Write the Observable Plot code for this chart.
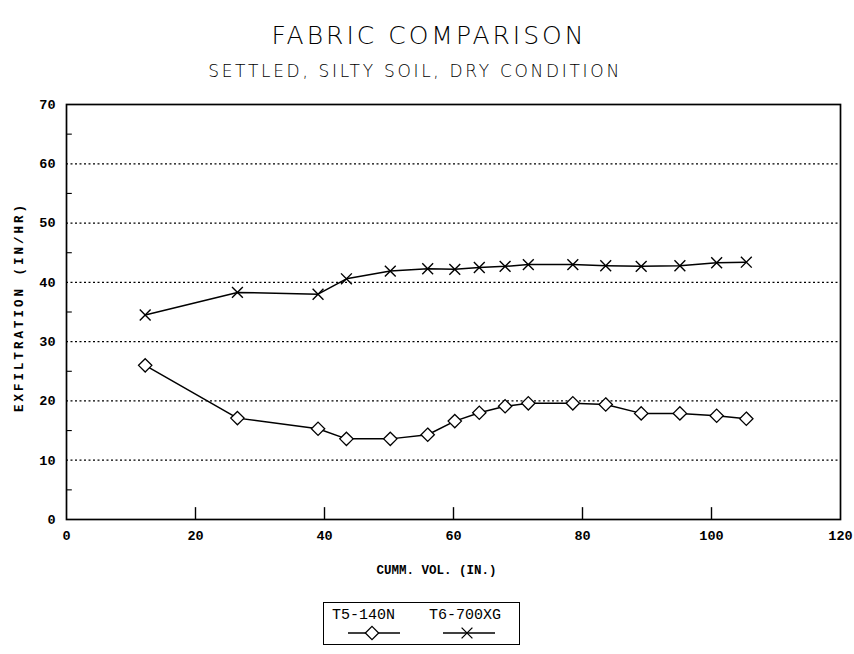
<!DOCTYPE html>
<html>
<head>
<meta charset="utf-8">
<script src="https://cdn.jsdelivr.net/npm/d3@7"></script>
<script src="https://cdn.jsdelivr.net/npm/@observablehq/plot@0.6"></script>
<style>
  html, body { margin: 0; padding: 0; background: #fff; }
  #wrap { position: relative; width: 854px; height: 654px; background: #fff; overflow: hidden; }
  #title { position: absolute; left: 2px; top: 21px; width: 854px; text-align: center;
    font-family: "DejaVu Sans"; font-weight: 300; font-size: 25px; letter-spacing: 3px; color: #000; }
  #subtitle { position: absolute; left: -12px; top: 61px; width: 854px; text-align: center;
    font-family: "DejaVu Sans"; font-weight: 300; font-size: 17px; letter-spacing: 2.7px; color: #000; }
  #chart { position: absolute; left: 0; top: 90px; }
  #legend { position: absolute; left: 323px; top: 602px; width: 197px; height: 43px;
    border: 1.5px solid #000; box-sizing: border-box; background: #fff; }
  .lg-text { position: absolute; font-family: "Liberation Mono"; font-size: 15px; color: #000; }
  .lg-sym { position: absolute; }
</style>
</head>
<body>
<div id="wrap">
  <div id="title"></div>
  <div id="subtitle"></div>
  <div id="chart"></div>
  <div id="legend"></div>
</div>
<script>
// ---- data ----
const cummVol  = [12.2, 26.5, 39.0, 43.4, 50.2, 56.0, 60.2, 64.0, 68.0, 71.6, 78.5, 83.6, 89.1, 95.1, 100.8, 105.4];
const t5_140N  = [26.0, 17.1, 15.3, 13.6, 13.6, 14.3, 16.6, 18.0, 19.1, 19.6, 19.6, 19.4, 17.9, 17.9, 17.5, 17.0];
const t6_700XG = [34.5, 38.3, 38.0, 40.6, 41.9, 42.3, 42.2, 42.5, 42.7, 43.0, 43.0, 42.8, 42.7, 42.8, 43.3, 43.4];
const seriesNames = ["T5-140N", "T6-700XG"];
const xTicks = [0, 20, 40, 60, 80, 100, 120];
const yTicks = [0, 10, 20, 30, 40, 50, 60, 70];
const yGrid = [10, 20, 30, 40, 50, 60];
const xInnerTicks = [20, 40, 60, 80, 100];
const yInnerTicks = [5, 15, 25, 35, 45, 55, 65];
const titleText = "FABRIC COMPARISON";
const subtitleText = "SETTLED, SILTY SOIL, DRY CONDITION";
const xLabel = "CUMM. VOL. (IN.)";
const yLabel = "EXFILTRATION (IN/HR)";

document.getElementById("title").textContent = titleText;
document.getElementById("subtitle").textContent = subtitleText;

const rowsT5 = cummVol.map((x, i) => ({x, y: t5_140N[i]}));
const rowsT6 = cummVol.map((x, i) => ({x, y: t6_700XG[i]}));

const plot = Plot.plot({
  width: 854,
  height: 500,
  marginTop: 14,
  marginBottom: 71,
  marginLeft: 66,
  marginRight: 14,
  style: { fontFamily: "Liberation Mono", background: "white", color: "black", overflow: "visible" },
  x: { domain: [0, 120] },
  y: { domain: [0, 70] },
  marks: [
    Plot.ruleY(yGrid, { stroke: "black", strokeWidth: 1.3, strokeDasharray: "2,2.5" }),
    Plot.ruleX(xInnerTicks, { y1: 0, y2: 2, stroke: "black", strokeWidth: 1.4 }),
    Plot.ruleY(yInnerTicks, { x1: 0, x2: 0.9, stroke: "black", strokeWidth: 1.1 }),
    Plot.frame({ stroke: "black", strokeWidth: 1.7 }),
    Plot.axisX(xTicks, { tickSize: 0, tickPadding: 11, fontSize: 13.5, fontWeight: "bold",
      label: xLabel, labelArrow: "none", labelAnchor: "center", labelOffset: 54, tickFormat: d => String(d) }),
    Plot.axisY(yTicks, { tickSize: 0, tickPadding: 11, fontSize: 13.5, fontWeight: "bold",
      label: yLabel, labelArrow: "none", labelAnchor: "center", labelOffset: 52, tickFormat: d => String(d) }),
    Plot.line(rowsT5, { x: "x", y: "y", stroke: "black", strokeWidth: 1.5 }),
    Plot.dot(rowsT5, { x: "x", y: "y", symbol: "diamond2", r: 6, fill: "white", stroke: "black", strokeWidth: 1.3 }),
    Plot.line(rowsT6, { x: "x", y: "y", stroke: "black", strokeWidth: 1.5 }),
    Plot.dot(rowsT6, { x: "x", y: "y", symbol: "times", r: 5, stroke: "black", strokeWidth: 1.4 })
  ]
});
document.getElementById("chart").appendChild(plot);

// axis label styling (and strip any arrow glyphs)
const stripArrows = t => { t.textContent = t.textContent.replace(/\s*[→←↑↓]\s*/g, "").trim(); };
plot.querySelectorAll('[aria-label="y-axis label"] text').forEach(t => {
  stripArrows(t);
  t.style.letterSpacing = "3px"; t.style.fontWeight = "bold"; t.style.fontSize = "12.5px";
  t.setAttribute("dx", "5");
});
plot.querySelectorAll('[aria-label="x-axis label"] text').forEach(t => {
  stripArrows(t);
  t.style.fontWeight = "bold"; t.style.fontSize = "12.5px";
  t.setAttribute("dx", "-17");
});

// ---- legend ----
const legend = d3.select("#legend");
const items = [
  { name: seriesNames[0], textLeft: 8, symLeft: 24, symbol: d3.symbolDiamond2, size: 113, fill: "white" },
  { name: seriesNames[1], textLeft: 105, symLeft: 119, symbol: d3.symbolTimes, size: 78, fill: "none" }
];
items.forEach(it => {
  legend.append("div").attr("class", "lg-text")
    .style("left", it.textLeft + "px").style("top", "4px").text(it.name);
  const svg = legend.append("svg").attr("class", "lg-sym")
    .style("left", it.symLeft + "px").style("top", "21px")
    .attr("width", 52).attr("height", 18);
  svg.append("line").attr("x1", 0).attr("x2", 52).attr("y1", 9).attr("y2", 9)
    .attr("stroke", "black").attr("stroke-width", 1.5);
  svg.append("path").attr("transform", "translate(24,9)")
    .attr("d", d3.symbol(it.symbol, it.size)())
    .attr("fill", it.fill).attr("stroke", "black").attr("stroke-width", 1.3);
});
</script>
</body>
</html>
